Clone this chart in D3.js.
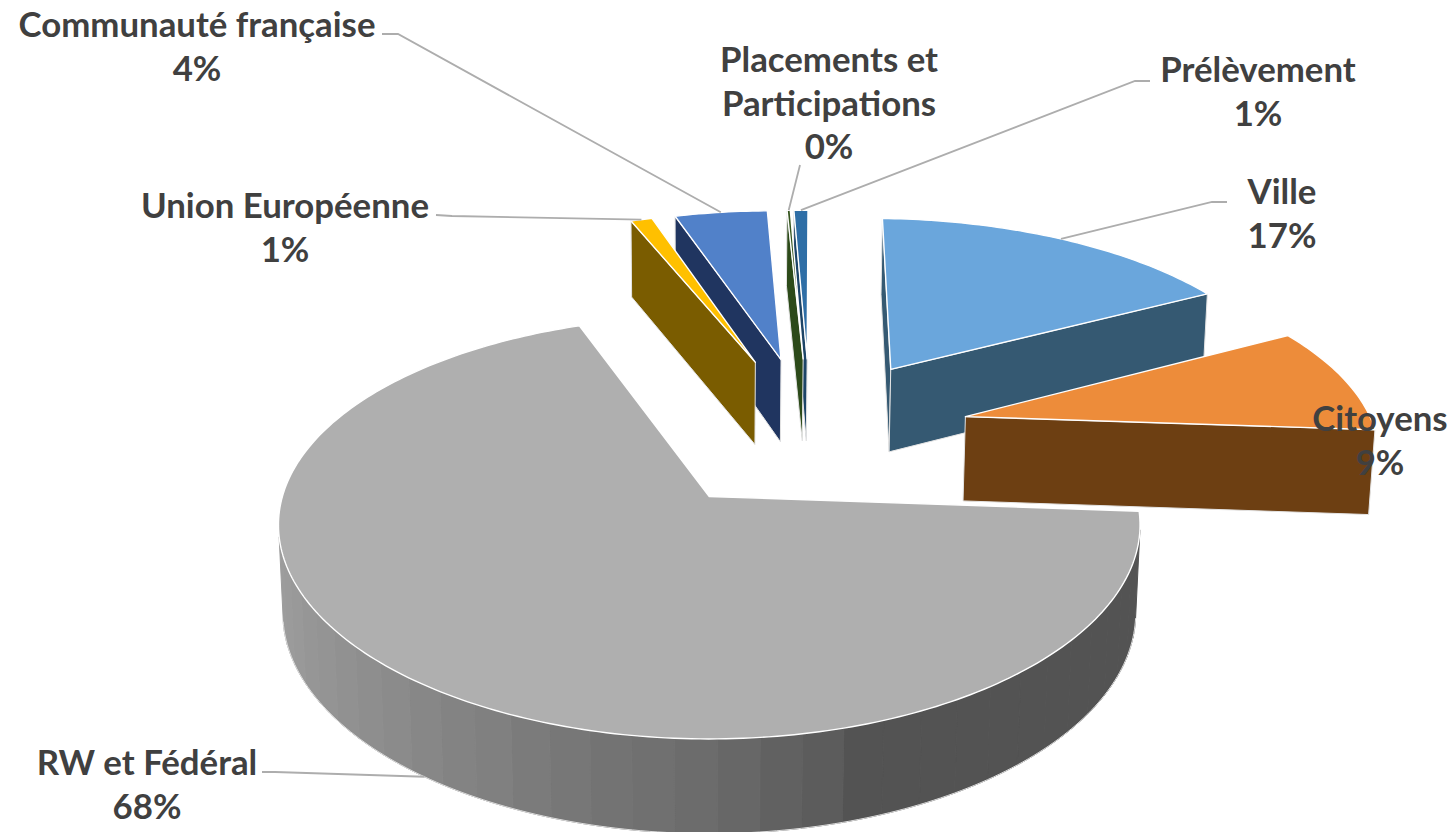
<!DOCTYPE html>
<html>
<head>
<meta charset="utf-8">
<script src="https://d3js.org/d3.v7.min.js"></script>
<style>
  html, body { margin: 0; padding: 0; background: #fff; overflow: hidden; }
  svg { display: block; }
  text { font-family: Lato, "Open Sans", sans-serif; font-weight: 700; fill: #404040; }
</style>
</head>
<body>
<div id="chart"></div>
<script>
// values (slightly finer than the rounded labels)
var categories = ["Ville", "Citoyens", "RW et Fédéral", "Union Européenne", "Communauté française", "Placements et Participations", "Prélèvement"];
var values = [16.7, 8.9, 68.3, 1, 4.3, 0.15, 0.65];
var labelLines = [["Ville"], ["Citoyens"], ["RW et Fédéral"], ["Union Européenne"], ["Communauté française"], ["Placements et", "Participations"], ["Prélèvement"]];
var topColors = ["#6AA6DC", "#ED8C3A", "#AFAFAF", "#FFC000", "#5181C9", "#36561F", "#2E6EA6"];
var sideColors = ["#355972", "#6D3F12", "#535353", "#7A5C00", "#203560", "#2C4A19", "#1C4467"];

var width = 1455, height = 832;

var svg = d3.select("#chart")
  .append("svg")
  .attr("width", width)
  .attr("height", height);

// camera: disc coords (u to the right, v to the viewer), d = 0 top face, d = 1 bottom face
var cam = { x0: 710, y0: 497, a: 427, b: 207, h: 89.5, k: 0.147, kx: 0.135, mx: 0.01, my: 0.026 };
var explode = 0.41, explodeCitoyens = 0.395, centerU = 0.245, centerV = -0.33;
var rotation = 1.9 * Math.PI / 180;

function project(u, v, d) {
  return [
    cam.x0 + cam.a * u / (1 - cam.kx * v + cam.mx * d),
    cam.y0 + (cam.b * v + cam.h * d) / (1 - cam.k * v + cam.my * d)
  ];
}

var pie = d3.pie().sort(null).startAngle(rotation).endAngle(rotation + 2 * Math.PI);
var slices = pie(values);

// apex of an exploded slice in disc coords
function apexOf(s) {
  var mid = (s.startAngle + s.endAngle) / 2;
  var e = s.index === categories.indexOf("Citoyens") ? explodeCitoyens : explode;
  return [centerU + e * Math.sin(mid), centerV - e * Math.cos(mid)];
}

function rimPoint(s, angle, d) {
  var ap = apexOf(s);
  return project(ap[0] + Math.sin(angle), ap[1] - Math.cos(angle), d);
}

var line = d3.line();
var step = Math.PI / 180;

// RW side is banded grey in the original, about 5 degrees per band
var bandShade = d3.scaleLinear()
  .domain([165, 181, 194, 207, 223, 248, 275])
  .range(["#5a5a5a", "#6c6c6c", "#757575", "#808080", "#8c8c8c", "#9a9a9a", "#a0a0a0"])
  .clamp(true);

function rwShade(deg) {
  return deg < 163 ? "#535353" : bandShade(deg);
}

function drawSlice(s, i) {
  var g = svg.append("g");
  var ap = apexOf(s);
  var apexTop = project(ap[0], ap[1], 0);
  var apexBot = project(ap[0], ap[1], 1);
  var startTop = rimPoint(s, s.startAngle, 0);
  var startBot = rimPoint(s, s.startAngle, 1);
  var endTop = rimPoint(s, s.endAngle, 0);
  var endBot = rimPoint(s, s.endAngle, 1);

  function wall(quad, fill, edge) {
    if (d3.polygonArea(quad) <= 0) return; // facing away
    g.append("path")
      .attr("d", line(quad) + "Z")
      .attr("fill", fill)
      .attr("stroke", edge ? "#e4e4e4" : fill)
      .attr("stroke-width", 1)
      .attr("stroke-linejoin", "round");
  }

  wall([apexTop, startTop, startBot, apexBot], sideColors[i], true);
  wall([endTop, apexTop, apexBot, endBot], sideColors[i], true);

  // curved outer wall
  var isBanded = categories[i] === "RW et Fédéral";
  var bandStep = isBanded ? 5 * step : step;
  for (var a = s.startAngle; a < s.endAngle; a += bandStep) {
    var b = Math.min(a + bandStep, s.endAngle);
    var pts = [], back = [];
    for (var t = a; t < b; t += step / 2) {
      pts.push(rimPoint(s, t, 0));
      back.push(rimPoint(s, t, 1));
    }
    pts.push(rimPoint(s, b, 0));
    back.push(rimPoint(s, b, 1));
    var deg = (a + bandStep / 2) * 180 / Math.PI;
    var quad = pts.concat(back.reverse());
    wall(quad, isBanded ? rwShade(deg) : sideColors[i], false);
  }

  // light outline along the bottom rim, only where the wall faces us
  var outline = [];
  for (var o = s.startAngle; o + step <= s.endAngle; o += step) {
    var q = [rimPoint(s, o, 0), rimPoint(s, o + step, 0), rimPoint(s, o + step, 1), rimPoint(s, o, 1)];
    if (d3.polygonArea(q) > 0) {
      outline.push(q[3]);
    } else if (outline.length) {
      break;
    }
  }
  if (outline.length) {
    g.append("path")
      .attr("d", line(outline))
      .attr("fill", "none")
      .attr("stroke", "#dedede")
      .attr("stroke-width", 1);
  }

  // top face
  var top = [apexTop];
  for (var c = s.startAngle; c < s.endAngle; c += step) top.push(rimPoint(s, c, 0));
  top.push(endTop);
  g.append("path")
    .attr("d", line(top) + "Z")
    .attr("fill", topColors[i])
    .attr("stroke", "#ffffff")
    .attr("stroke-width", 1.4)
    .attr("stroke-linejoin", "round");
}

// back to front
[6, 5, 4, 3, 0, 1, 2].forEach(function (i) { drawSlice(slices[i], i); });

// leader lines: label end, elbow, then the rim of the slice
var leaders = [
  { i: 0, from: [1227, 202], elbow: [1212, 202], d: 0 },
  { i: 2, from: [262, 772], elbow: [275, 772], d: 1 },
  { i: 3, from: [436, 215], elbow: [452, 216], d: 0 },
  { i: 4, from: [382, 34], elbow: [398, 34], d: 0 },
  { i: 5, from: [800, 165], elbow: [800, 165], d: 0 },
  { i: 6, from: [1150, 81], elbow: [1135, 81], d: 0 }
];

leaders.forEach(function (l) {
  var s = slices[l.i];
  var end = rimPoint(s, (s.startAngle + s.endAngle) / 2, l.d);
  svg.append("path")
    .attr("d", line([l.from, l.elbow, end]))
    .attr("fill", "none")
    .attr("stroke", "#ADADAD")
    .attr("stroke-width", 1.8);
});

// labels, centred, name lines then percentage
var labelPos = [[1282, 204], [1380, 431], [147, 775], [285, 218], [197, 37], [829, 72], [1258, 82]];
var lineGap = 43.5;
var total = d3.sum(values);

categories.forEach(function (c, i) {
  var lines = labelLines[i].concat(Math.round(values[i] / total * 100) + "%");
  svg.append("g")
    .selectAll("text")
    .data(lines)
    .enter()
    .append("text")
    .attr("x", labelPos[i][0])
    .attr("y", function (d, j) { return labelPos[i][1] + j * lineGap; })
    .attr("text-anchor", "middle")
    .attr("font-size", 34.8)
    .text(function (d) { return d; });
});
</script>
</body>
</html>
